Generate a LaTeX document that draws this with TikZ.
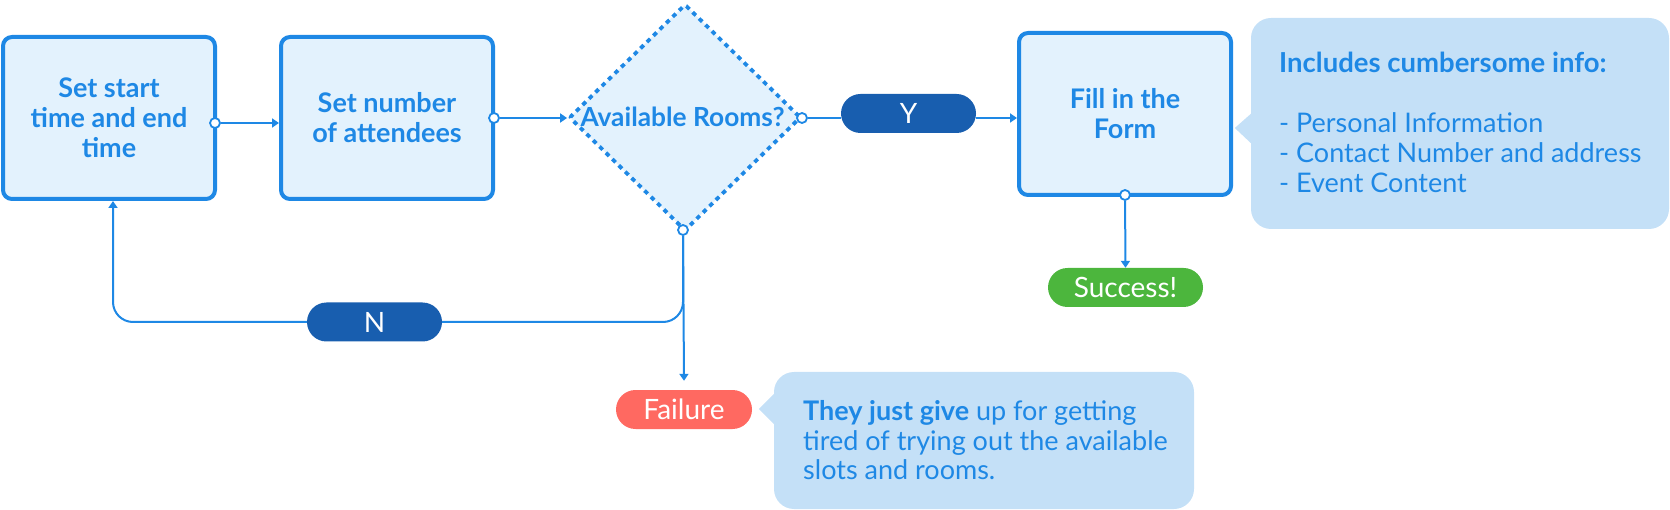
\documentclass[tikz,border=0pt]{standalone}
\usepackage{fontspec}
\setmainfont{Lato}
\usetikzlibrary{shapes.geometric,arrows.meta,backgrounds}
\definecolor{mblue}{HTML}{1E88E5}
\definecolor{boxfill}{HTML}{E3F2FD}
\definecolor{callfill}{HTML}{C4E0F7}
\definecolor{pilldark}{HTML}{185EAF}
\definecolor{okgreen}{HTML}{4CB63D}
\definecolor{badred}{HTML}{FF6961}
\newcommand\bxfont{\bfseries\fontsize{27}{30}\selectfont}
\newcommand\dxfont{\bfseries\fontsize{26.3}{30}\selectfont}
\newcommand\plfont{\fontsize{28}{30}\selectfont}
\newcommand\clfont{\fontsize{27}{30}\selectfont}
\tikzset{
  proc/.style={draw=mblue, fill=boxfill, line width=4pt, rounded corners=9pt,
    minimum width=212pt, minimum height=162pt, inner sep=0pt, align=center,
    text=mblue, font=\bxfont},
  decision/.style={diamond, draw=mblue, fill=boxfill, line width=3.8pt,
    dash pattern=on 4.5pt off 4.5pt, minimum width=232pt, minimum height=227pt,
    inner sep=0pt, rounded corners=2pt},
  dtext/.style={text=mblue, font=\dxfont, inner sep=0pt},
  pill/.style={rounded corners=19.5pt, minimum height=39pt, inner sep=0pt,
    text=white, font=\plfont},
  conn/.style={draw=mblue, line width=2pt, -{Triangle[length=7pt,width=9pt]}},
  link/.style={draw=mblue, line width=2pt},
  dot/.style={circle, draw=mblue, fill=white, line width=1.8pt,
    minimum size=10pt, inner sep=0pt},
  bubble/.style={fill=callfill, rounded corners=20pt, inner sep=0pt},
  ctext/.style={text=mblue, font=\clfont, inner sep=0pt, anchor=base west},
}
\begin{document}
\begin{tikzpicture}[x=1pt,y=-1pt]
\useasboundingbox (0,0) rectangle (1670,510);
% process boxes
\node[proc] (b1) at (109,118) {Set start\\time and end\\time};
\node[proc] (b2) at (387,118) {Set number\\of attendees};
\node[decision] (d) at (685,117.5) {};
\node[dtext] (dt) at (682.5,116.5) {Available Rooms?};
\node[proc] (b3) at (1125,114) {Fill in the\\Form};
% pills
\node[pill, fill=pilldark, minimum width=135pt] (yp) at (908.5,113.5) {Y};
\node[pill, fill=okgreen, minimum width=155pt] (succ) at (1125.5,287.5) {Success!};
\node[pill, fill=pilldark, minimum width=135pt] (np) at (374.5,322) {N};
\node[pill, fill=badred, minimum width=136pt] (fail) at (684,409.5) {Failure};
% callouts
\node[bubble, minimum width=418pt, minimum height=211pt] (c1) at (1460,123.5) {};
\fill[callfill] ([shift={(1,-10.5)}]c1.west) -- ([shift={(-16,4.5)}]c1.west)
  -- ([shift={(1,20.5)}]c1.west) -- cycle;
\node[bubble, minimum width=420pt, minimum height=137pt] (c2) at (984,440.5) {};
\fill[callfill] ([shift={(1,-47.5)}]c2.west) -- ([shift={(-15,-31.5)}]c2.west)
  -- ([shift={(1,-15.5)}]c2.west) -- cycle;
\node[ctext, font=\fontsize{27.5}{30}\selectfont\bfseries] (h1) at (1279,73) {Includes cumbersome info:};
\node[ctext] (l1) at (1279,133) {- Personal Information};
\node[ctext] (l2) at (1279,163) {- Contact Number and address};
\node[ctext] (l3) at (1279,193) {- Event Content};
\node[ctext] (f1) at (803,420) {\textbf{They just give} up for getting};
\node[ctext] (f2) at (803,450) {tired of trying out the available};
\node[ctext] (f3) at (803,479) {slots and rooms.};
% connection dots
\node[dot] (o1) at (215,123) {};
\node[dot] (o2) at (494,118) {};
\node[dot] (o3) at (802,118) {};
\node[dot] (o4) at (683,230) {};
\node[dot] (o5) at (1125,195) {};
% connectors
\draw[conn] (o1) -- (b2.west |- o1);
\draw[conn] (o2) -- (d.west |- o2);
\draw[link] (o3) -- (yp.west |- o3);
\draw[conn] (yp.east |- o3) -- (b3.west |- o3);
\draw[conn] (o5) -- (succ.north);
\draw[conn] (o4) -- ([yshift=9pt]fail.north);
\draw[link, rounded corners=20pt] (o4) |- (np.east);
\draw[conn, rounded corners=20pt] (np.west) -| ([xshift=4pt]b1.south);
\end{tikzpicture}
\end{document}
